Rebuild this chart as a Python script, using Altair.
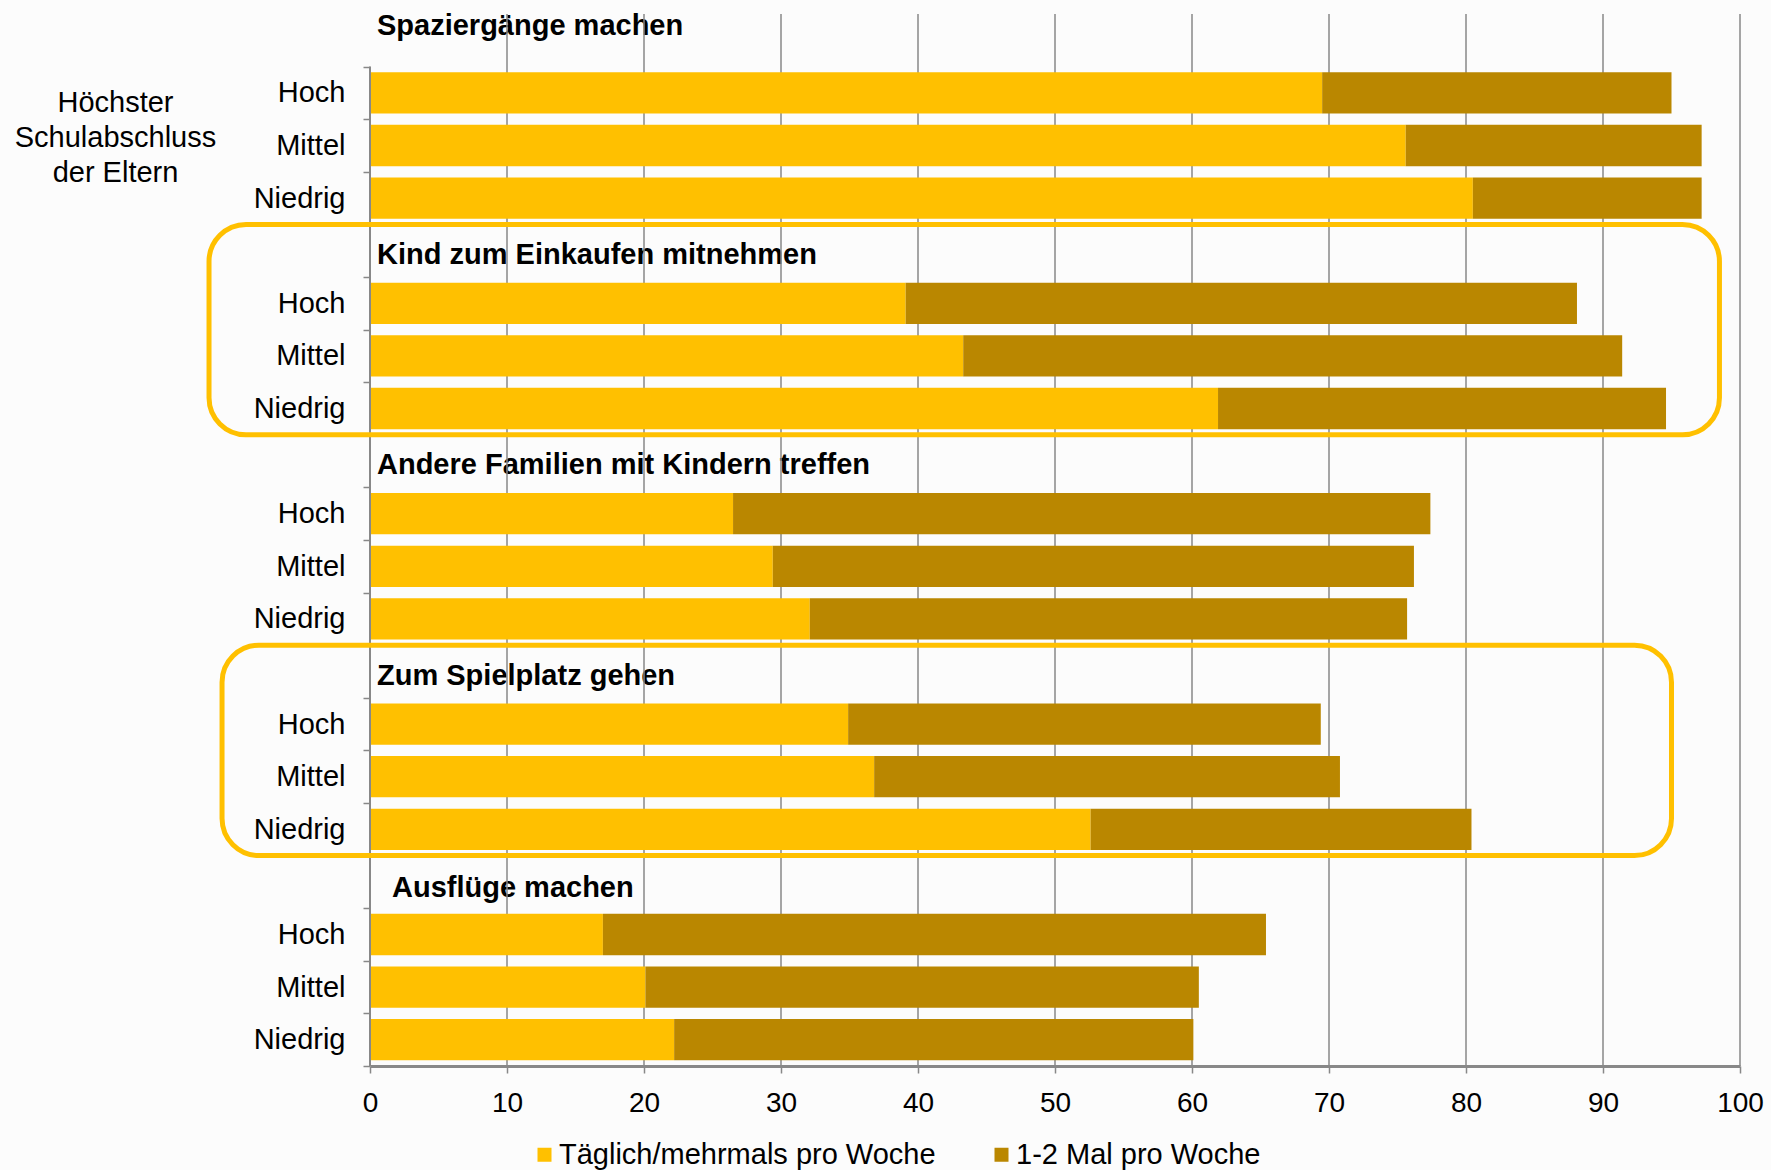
import altair as alt
import pandas as pd

# ---- data -------------------------------------------------------------
ACTIVITIES = [
    "Spaziergänge machen",
    "Kind zum Einkaufen mitnehmen",
    "Andere Familien mit Kindern treffen",
    "Zum Spielplatz gehen",
    "Ausflüge machen",
]
LEVELS = ["Hoch", "Mittel", "Niedrig"]
SERIES = ["Täglich/mehrmals pro Woche", "1-2 Mal pro Woche"]

# share (%) doing the activity daily / several times a week, by level
DAILY = [
    [69.5, 75.6, 80.5],
    [39.1, 43.3, 61.9],
    [26.5, 29.4, 32.1],
    [34.9, 36.8, 52.6],
    [17.0, 20.1, 22.2],
]
# share (%) doing it once or twice a week
WEEKLY = [
    [25.5, 21.6, 16.7],
    [49.0, 48.1, 32.7],
    [50.9, 46.8, 43.6],
    [34.5, 34.0, 27.8],
    [48.4, 40.4, 37.9],
]

X_TICKS = list(range(0, 101, 10))

# activity groups that get a highlight frame, with the frame's x extent (axis units)
HIGHLIGHT = [1, 3]
FRAME_X = {1: (-11.75, 98.5), 3: (-10.8, 95.0)}

# ---- style ------------------------------------------------------------
FONT = "Liberation Sans"
COLORS = ["#FFC000", "#BA8700"]
GRID = "#888888"
PLOT_W, PLOT_H = 1370, 1052


def slot_key(g, i):
    return f"{g}-{i}|" + ("" if i == 0 else LEVELS[i - 1])


# every activity takes four rows: its heading row, then Hoch / Mittel / Niedrig
SLOTS = [slot_key(g, i) for g in range(len(ACTIVITIES)) for i in range(4)]

bar_rows = []
for g in range(len(ACTIVITIES)):
    for i, lev in enumerate(LEVELS):
        bar_rows.append({"slot": slot_key(g, i + 1), "series": SERIES[0], "k": 0, "value": DAILY[g][i]})
        bar_rows.append({"slot": slot_key(g, i + 1), "series": SERIES[1], "k": 1, "value": WEEKLY[g][i]})
bars_df = pd.DataFrame(bar_rows)

heads_df = pd.DataFrame({"slot": [slot_key(g, 0) for g in range(len(ACTIVITIES))], "text": ACTIVITIES})

frames_df = pd.DataFrame({
    "slot": [slot_key(g, 0) for g in HIGHLIGHT],
    "slot_end": [slot_key(g + 1, 0) for g in HIGHLIGHT],
    "x0": [FRAME_X[g][0] for g in HIGHLIGHT],
    "x1": [FRAME_X[g][1] for g in HIGHLIGHT],
})

axis_df = pd.DataFrame({"slot": [slot_key(0, 1)]})
grid_df = pd.DataFrame({"value": X_TICKS[1:]})

y_scale = alt.Scale(domain=SLOTS, paddingInner=0, paddingOuter=0)
x_scale = alt.Scale(domain=[0, 100], nice=False)

x_axis = alt.Axis(
    values=X_TICKS, grid=False,
    domainColor=GRID, domainWidth=3, tickColor=GRID, tickWidth=1.5, tickSize=7,
    labelFontSize=28, labelPadding=16, labelFlush=False, labelColor="#000000",
    labelFont=FONT, title=None,
)
y_axis = alt.Axis(
    values=SLOTS[1:], tickBand="extent", labelExpr="split(datum.value, '|')[1]",
    labelFontSize=29, labelPadding=18, labelColor="#000000", labelFont=FONT,
    tickSize=7, tickColor=GRID, tickWidth=1.5, domain=False, grid=False,
    title=["Höchster", "Schulabschluss", "der Eltern"], titleAngle=0, titleAlign="center",
    titleBaseline="middle", titleX=-255, titleY=88, titleFontSize=29,
    titleFontWeight="normal", titleLineHeight=35, titleColor="#000000", titleFont=FONT,
)

# vertical grid lines at the x ticks (none at zero, where the category axis sits)
grid = alt.Chart(grid_df).mark_rule(color=GRID, strokeWidth=1.5).encode(
    x=alt.X("value:Q"),
    y=alt.value(0),
    y2=alt.value("height"),
)

bars = alt.Chart(bars_df).mark_bar(height=alt.RelativeBandSize(0.785)).encode(
    x=alt.X("value:Q", stack="zero", scale=x_scale, axis=x_axis),
    y=alt.Y("slot:N", scale=y_scale, axis=y_axis),
    color=alt.Color(
        "series:N",
        scale=alt.Scale(domain=SERIES, range=COLORS),
        legend=alt.Legend(
            orient="none", legendX=160, legendY=1126, direction="horizontal",
            title=None, symbolType="square", symbolSize=196, symbolStrokeWidth=0,
            labelFontSize=29, labelFont=FONT, labelColor="#000000", labelOffset=0,
            labelLimit=0, columnPadding=51, padding=0,
        ),
    ),
    order=alt.Order("k:Q"),
)

# category axis line, running from the first level row down to the x axis
y_line = alt.Chart(axis_df).mark_rule(color=GRID, strokeWidth=2).encode(
    x=alt.datum(0),
    y=alt.Y("slot:N", bandPosition=0),
    y2=alt.value("height"),
)

frames = alt.Chart(frames_df).mark_rect(
    cornerRadius=37, stroke="#FFC000", strokeWidth=5, fill="#ffffff", fillOpacity=0
).encode(
    x=alt.X("x0:Q"),
    x2="x1:Q",
    y=alt.Y("slot:N", bandPosition=0),
    y2=alt.Y2("slot_end", bandPosition=0),
)


def heading_layer(rows, dx, dy):
    return alt.Chart(rows).mark_text(
        align="left", baseline="middle", dx=dx, dy=dy, fontSize=29, fontWeight="bold",
        font=FONT, color="#000000"
    ).encode(x=alt.datum(0), y=alt.Y("slot:N"), text="text:N")


first_head = heading_layer(heads_df.iloc[:1], 7, -14)
mid_heads = heading_layer(heads_df.iloc[1:4], 7, 4)
last_head = heading_layer(heads_df.iloc[4:], 22, 6)

chart = alt.layer(
    first_head, mid_heads, last_head, grid, bars, y_line, frames
).properties(
    width=PLOT_W,
    height=PLOT_H,
    autosize=alt.AutoSizeParams(type="none"),
    padding={"left": 370, "top": 14, "right": 31, "bottom": 104},
    background="#fcfcfc",
).configure(font=FONT).configure_view(strokeWidth=0)

chart.save("out.html", embed_options={"renderer": "svg", "actions": False})
